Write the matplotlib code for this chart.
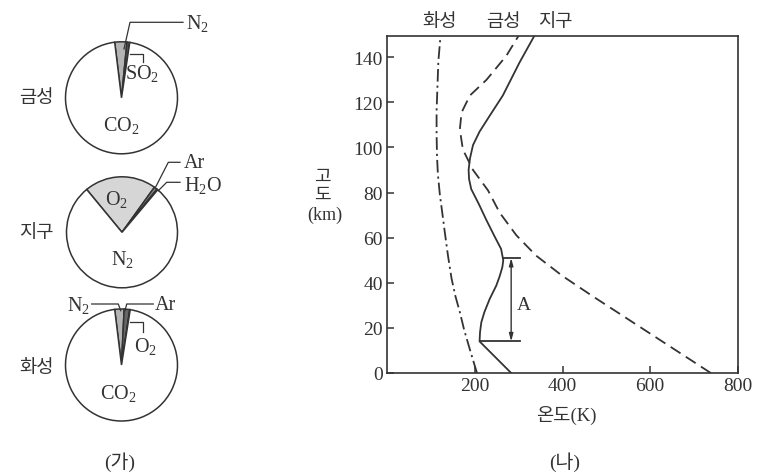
import numpy as np
import matplotlib
matplotlib.use('Agg')
import matplotlib.pyplot as plt

plt.rcParams['font.family'] = ['Liberation Serif', 'Noto Sans CJK KR']
plt.rcParams['mathtext.default'] = 'regular'

INK = '#333333'

# (가) 대기 조성 (%)
venus_gas = ['N$_2$', 'SO$_2$', 'CO$_2$']
venus_pct = [3.5, 0.8, 95.7]
earth_gas = ['O$_2$', 'Ar', 'H$_2$O', 'N$_2$']
earth_pct = [20.9, 0.9, 0.3, 77.9]
mars_gas = ['N$_2$', 'Ar', 'O$_2$', 'CO$_2$']
mars_pct = [2.7, 1.6, 0.13, 95.57]

# (나) 고도에 따른 온도 (K, km)
venus_T = [738, 469, 400, 340, 295, 257, 230, 196, 173, 166, 170, 189, 227, 272, 300]
venus_h = [0, 34, 43, 52, 61, 71, 81, 90, 99, 108, 115.5, 123, 130, 140.6, 149.5]
earth_T = [283, 211, 212, 215, 222, 234, 249, 257, 263, 265, 264, 260, 244, 226, 209,
           192, 187, 186, 189, 196, 211, 234, 264, 302, 336]
earth_h = [0, 14, 18, 22.5, 27, 32.8, 38.7, 43, 47, 50, 51, 55, 61, 68, 75,
           81.5, 86, 90, 95, 101, 107, 114, 123, 137.6, 149.5]
mars_T = [205, 188, 176, 166, 156, 147, 139, 132, 126, 120.5, 116, 114, 113, 113, 115, 117, 122]
mars_h = [0, 11, 19, 27, 34, 42, 52, 62, 71, 79, 88, 96, 106, 116, 127, 138, 149.5]

# 구간 A
A_bottom, A_top = 14, 51
A_T = 283
A_end = 302

W, H = 761, 477
fig = plt.figure(figsize=(W / 100, H / 100), dpi=100)

# 왼쪽: 원그래프 (픽셀 좌표, y는 위쪽이 +)
ax0 = fig.add_axes([0, 0, 1, 1])


def pie(vals, colors, start, cx, cy, r=56):
    ax0.pie(vals, colors=colors, startangle=start, counterclock=False,
            center=(cx, H - cy), radius=r, frame=True,
            wedgeprops=dict(edgecolor=INK, linewidth=1.1))
    return cx, H - cy


def leader(c, pts):
    pts = np.array(pts, dtype=float)
    ax0.plot(c[0] + pts[:, 0], c[1] + pts[:, 1], color=INK, lw=0.9)


def label(c, dx, dy, s, ha='center', size=14.5):
    ax0.text(c[0] + dx, c[1] + dy, s, ha=ha, va='center', fontsize=size, color=INK)


# 금성
c = pie(venus_pct, ['#b4b4b4', '#555555', 'white'], 97, 121.5, 98.8)
leader(c, [(2.5, 48.8), (8.5, 75.5), (61.5, 75.5)])
label(c, 64.5, 74.8, venus_gas[0], ha='left')
leader(c, [(8.5, 43.8), (21.2, 43.8), (21.2, 35.5)])
label(c, 21, 24.8, venus_gas[1])
label(c, 0, -26.2, venus_gas[2])
label(c, -84.8, 0, '금성', size=13.5)

# 지구
c = pie(earth_pct, ['#d6d6d6', '#8a8a8a', '#333333', 'white'], 129.5, 122, 233.3, 55.5)
label(c, -5.3, 33.3, earth_gas[0])
leader(c, [(33, 44), (46.3, 70), (58, 70)])
label(c, 62, 70, earth_gas[1], ha='left')
leader(c, [(36.3, 41.6), (44.7, 50), (58, 50)])
label(c, 62, 48.3, earth_gas[2], ha='left')
label(c, 0, -26.7, earth_gas[3])
label(c, -85.3, 0, '지구', size=13.5)

# 화성
c = pie(mars_pct, ['#b4b4b4', '#666666', '#222222', 'white'], 97, 121.5, 366)
leader(c, [(-0.8, 54.3), (-3.2, 61), (-29.8, 61)])
label(c, -32, 61, mars_gas[0], ha='right')
leader(c, [(3.5, 54.3), (5.2, 61), (31.8, 61)])
label(c, 33.5, 61, mars_gas[1], ha='left')
leader(c, [(8.5, 42.7), (21.8, 42.7), (21.8, 32.7)])
label(c, 23.5, 19.3, mars_gas[2])
label(c, -3.2, -27.3, mars_gas[3])
label(c, -84.8, -2.3, '화성', size=13.5)

# 오른쪽 그래프 주변 글자
for s, x in [('화성', 440), ('금성', 503.5), ('지구', 555.5)]:
    ax0.text(x, H - 22, s, ha='center', va='center', fontsize=13.5, color=INK)
for s, x, y in [('고', 322.5, 177), ('도', 322.5, 195), ('(km)', 325, 215.5)]:
    ax0.text(x, H - y, s, ha='center', va='center', fontsize=13, color=INK)
ax0.text(566.7, H - 415, '온도(K)', ha='center', va='center', fontsize=13.5, color=INK)
ax0.text(120, H - 461.7, '(가)', ha='center', va='center', fontsize=14, color=INK)
ax0.text(565, H - 461.7, '(나)', ha='center', va='center', fontsize=14, color=INK)

ax0.set_xlim(0, W)
ax0.set_ylim(0, H)
ax0.set_aspect('auto')
ax0.axis('off')

# 오른쪽: 온도 분포
ax = fig.add_axes([387 / W, 1 - 374 / H, (738 - 387) / W, (374 - 36.7) / H])
ax.plot(mars_T, mars_h, color=INK, lw=1.3, dashes=(7, 2.2, 1.2, 2.2))
ax.plot(venus_T, venus_h, color=INK, lw=1.3, dashes=(6.5, 3.5))
ax.plot(earth_T, earth_h, color=INK, lw=1.3)

for h in (A_bottom, A_top):
    ax.plot([np.interp(h, earth_h[1:], earth_T[1:]), A_end], [h, h], color=INK, lw=1.3)
ax.annotate('', xy=(A_T, A_top), xytext=(A_T, A_bottom),
            arrowprops=dict(arrowstyle='<|-|>,head_length=0.45,head_width=0.12',
                            color=INK, lw=1.0, shrinkA=0, shrinkB=0))
ax.text(A_T + 12, (A_top + A_bottom) / 2 - 2, 'A', fontsize=14, color=INK,
        ha='left', va='center')

ax.set_xlim(0, 800)
ax.set_ylim(0, 149.5)
ax.set_xticks([200, 400, 600, 800])
ax.set_yticks(np.arange(0, 141, 20))
ax.tick_params(direction='in', length=5, width=1.1, color=INK, labelsize=14,
               labelcolor=INK, pad=3)
for sp in ax.spines.values():
    sp.set_color(INK)
    sp.set_linewidth(1.2)
ax.patch.set_alpha(0)

fig.savefig('out.png', dpi=100)
